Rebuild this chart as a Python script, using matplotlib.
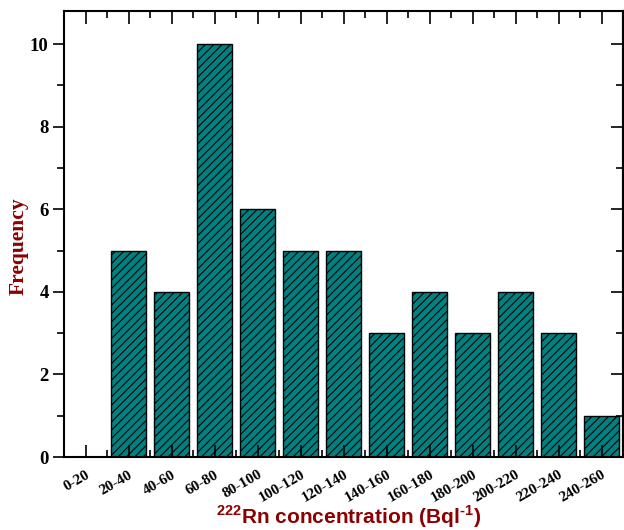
import matplotlib
matplotlib.use("Agg")
import matplotlib.pyplot as plt
import numpy as np
from matplotlib.ticker import MultipleLocator
from matplotlib.transforms import ScaledTranslation

categories = ["0-20", "20-40", "40-60", "60-80", "80-100", "100-120", "120-140",
              "140-160", "160-180", "180-200", "200-220", "220-240", "240-260"]
frequency = [0, 5, 4, 10, 6, 5, 5, 3, 4, 3, 4, 3, 1]

plt.rcParams['hatch.linewidth'] = 0.8
plt.rcParams['mathtext.fontset'] = 'custom'
plt.rcParams['mathtext.rm'] = 'Liberation Sans:bold'
plt.rcParams['mathtext.bf'] = 'Liberation Sans:bold'

dark_red = '#8b0000'

fig = plt.figure(figsize=(6.24, 5.30), dpi=100)
ax = fig.add_axes([0.1026, 0.1377, 0.896, 0.8413])

xs = np.arange(len(categories))
ax.bar(xs, frequency, width=0.8, color='#008080', edgecolor='black',
       linewidth=1.0, hatch='////')

ax.set_xlim(-0.5, 12.5)
ax.set_ylim(0, 10.8)

ax.set_xticks(xs)
ax.set_xticklabels(categories, rotation=30, ha='right', rotation_mode='anchor',
                   family='Liberation Serif', fontweight='bold', fontsize=11)
# shift labels a bit to the right, like the original
shift = ScaledTranslation(7 / 100, 0, fig.dpi_scale_trans)
for lab in ax.get_xticklabels():
    lab.set_transform(lab.get_transform() + shift)
ax.xaxis.set_minor_locator(MultipleLocator(1, offset=0.5))
ax.set_yticks([0, 2, 4, 6, 8, 10])
ax.yaxis.set_minor_locator(MultipleLocator(1))
for lab in ax.get_yticklabels():
    lab.set_family('Liberation Serif')
    lab.set_fontweight('bold')
    lab.set_fontsize(13.5)

ax.tick_params(axis='x', which='major', direction='in', length=9, width=1.2,
               top=True, bottom=True, pad=8)
ax.tick_params(axis='x', which='minor', direction='in', length=5, width=1.2,
               top=True, bottom=True)
ax.tick_params(axis='y', which='major', direction='out', length=8, width=1.2,
               left=True, right=False, pad=3)
ax.tick_params(axis='y', which='minor', direction='out', length=5, width=1.2,
               left=True, right=False)
# inward ticks on the right side
ax2 = ax.secondary_yaxis('right')
ax2.set_yticks([0, 2, 4, 6, 8, 10])
ax2.yaxis.set_minor_locator(MultipleLocator(1))
ax2.tick_params(which='major', direction='in', length=9, width=1.2, labelright=False)
ax2.tick_params(which='minor', direction='in', length=5, width=1.2)
ax2.spines['right'].set_linewidth(1.5)

for s in ax.spines.values():
    s.set_linewidth(1.5)

ax.set_ylabel("Frequency", family='Liberation Serif', fontweight='bold',
              fontsize=15.5, color=dark_red)
ax.yaxis.set_label_coords(-0.064, 0.473)
ax.set_xlabel(r"$^{222}$Rn concentration (Bql$^{\text{-1}}$)", family='Liberation Sans',
              fontweight='bold', fontsize=15, color=dark_red)
ax.xaxis.set_label_coords(0.508, -0.104)

fig.savefig("out.png", dpi=100)
